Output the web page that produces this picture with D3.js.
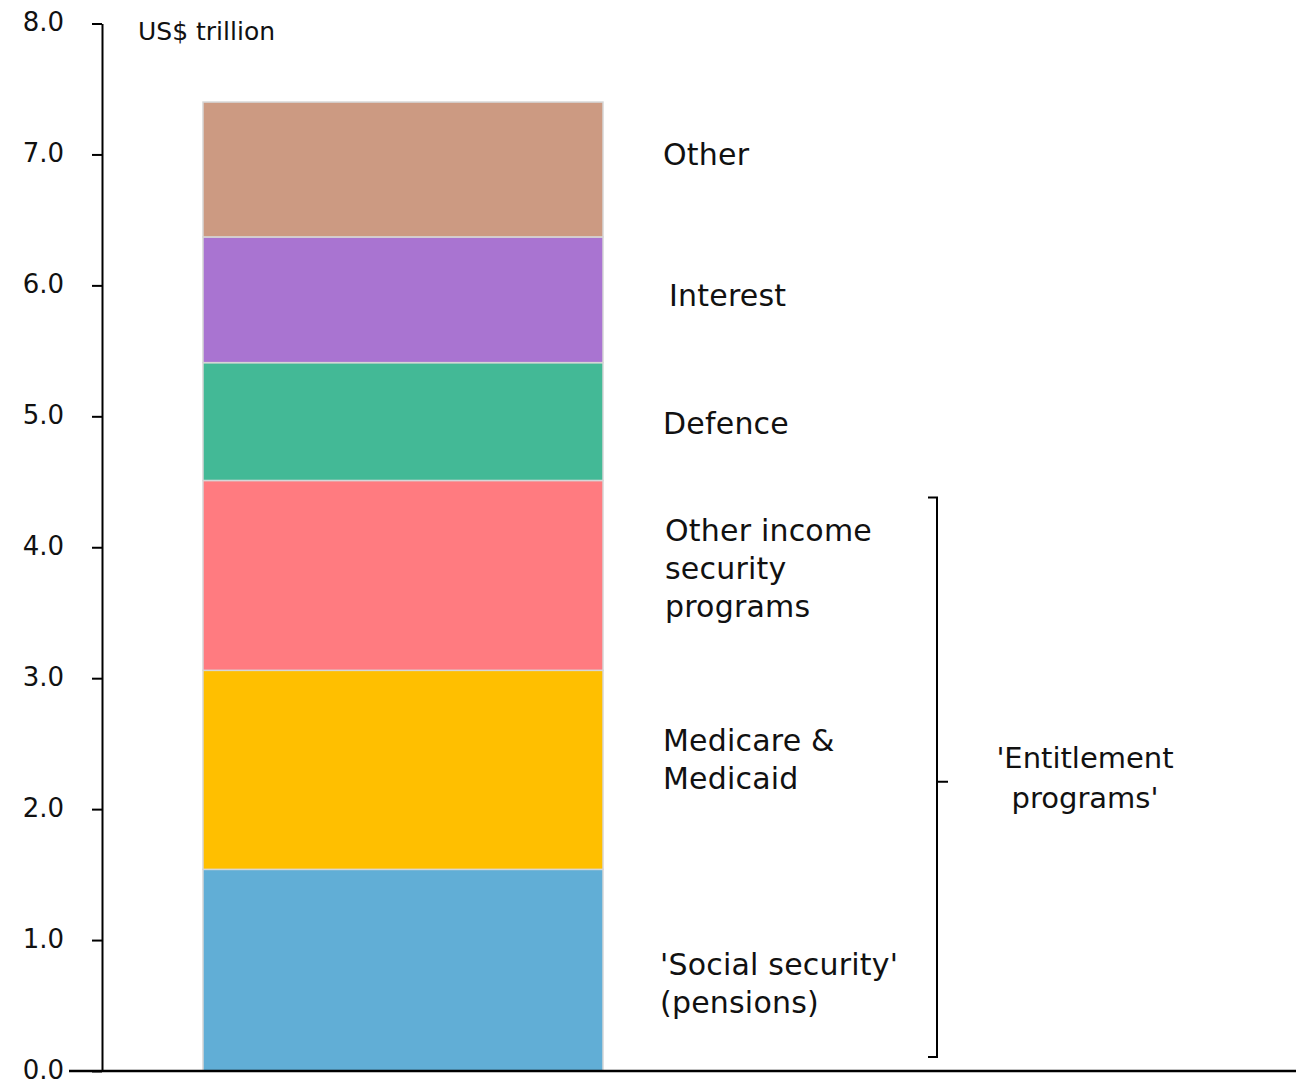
<!DOCTYPE html>
<html lang="en">
<head>
<meta charset="UTF-8">
<title>US federal spending</title>
<script src="https://d3js.org/d3.v7.min.js"></script>
<style>
  body { margin: 0; background: #fff; }
  text { font-family: "Century Gothic", "DejaVu Sans", sans-serif; fill: #111; }
</style>
</head>
<body>
<svg id="chart" width="1296" height="1084"></svg>
<script>
// data, bottom to top
var categories = ["'Social security' (pensions)", "Medicare & Medicaid", "Other income security programs", "Defence", "Interest", "Other"];
var values = [1.54, 1.52, 1.45, 0.90, 0.96, 1.03];
var colors = ["#61aed6", "#ffbf00", "#ff7b80", "#43b996", "#a974d1", "#cc9a82"];
var labelLines = [["'Social security'", "(pensions)"], ["Medicare &", "Medicaid"], ["Other income", "security", "programs"], ["Defence"], ["Interest"], ["Other"]];
var labelX = [660, 663, 665, 663, 669, 663];
var labelMid = [0.675, 2.38, 3.84, 4.95, 5.93, 7.0];
var yTicks = [0, 1, 2, 3, 4, 5, 6, 7, 8];
var bracketText = ["'Entitlement", "programs'"];

var svg = d3.select("#chart");
var y = d3.scaleLinear().domain([0, 8]).range([1071, 23.5]);
var x = d3.scaleBand().domain(["total"]).range([203, 603]);

// stack
var stackData = [];
var acc = 0;
values.forEach(function(v, i) {
  stackData.push({ name: categories[i], y0: acc, y1: acc + v, color: colors[i] });
  acc += v;
});

svg.selectAll("rect.seg").data(stackData).enter().append("rect")
  .attr("class", "seg")
  .attr("x", x("total"))
  .attr("width", x.bandwidth())
  .attr("y", function(d) { return y(d.y1); })
  .attr("height", function(d) { return y(d.y0) - y(d.y1); })
  .attr("fill", function(d) { return d.color; })
  .attr("stroke", "#d6d6d6")
  .attr("stroke-width", 1.5);

// y axis
var yAxis = d3.axisLeft(y).tickValues(yTicks).tickFormat(d3.format(".1f")).tickSize(10).tickSizeOuter(0);
var gy = svg.append("g").attr("transform", "translate(102,0)").call(yAxis);
gy.attr("font-size", null).attr("font-family", null);
gy.select(".domain").attr("stroke", "#000").attr("stroke-width", 2);
gy.selectAll(".tick line").attr("stroke", "#000").attr("stroke-width", 2);
gy.selectAll(".tick text")
  .attr("x", -38)
  .attr("dy", "0.28em")
  .style("font-size", "26px")
  .attr("fill", "#111");

// x baseline
svg.append("line")
  .attr("x1", 69).attr("x2", 1296)
  .attr("y1", y(0)).attr("y2", y(0))
  .attr("stroke", "#000").attr("stroke-width", 2.5);

svg.append("text")
  .attr("x", 138).attr("y", 40)
  .style("font-size", "25px")
  .text("US$ trillion");

// category labels
stackData.forEach(function(d, i) {
  var lines = labelLines[i];
  var lh = 38;
  var cy = y(labelMid[i]);
  var t = svg.append("text")
    .attr("x", labelX[i])
    .style("font-size", "30px")
    .style("letter-spacing", "0.2px");
  lines.forEach(function(s, j) {
    t.append("tspan")
      .attr("x", labelX[i])
      .attr("y", cy + (j - (lines.length - 1) / 2) * lh + 11)
      .text(s);
  });
});

// bracket for entitlement programs
var bTop = y(values[0] + values[1] + values[2]) + 17;
var bBot = y(0) - 14;
var bMid = y(2.21);
svg.append("path")
  .attr("d", "M928," + bTop + "H937V" + bBot + "H928M937," + bMid + "H948")
  .attr("fill", "none")
  .attr("stroke", "#000")
  .attr("stroke-width", 2);

var bt = svg.append("text").attr("text-anchor", "middle").style("font-size", "29px");
bracketText.forEach(function(s, j) {
  bt.append("tspan").attr("x", 1085).attr("y", 768 + j * 40).text(s);
});
</script>
</body>
</html>
